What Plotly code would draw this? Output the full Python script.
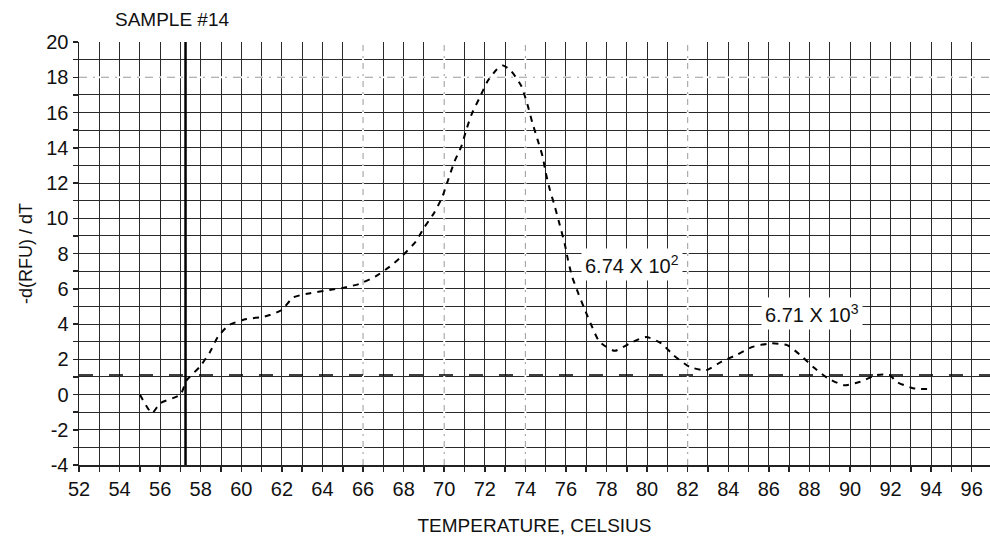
import plotly.graph_objects as go

# Data
temps = [55.0, 55.6, 56.0, 57.0, 57.3, 57.95, 58.45, 58.85, 59.4, 60.25, 61.15, 62.0, 62.55,
         63.4, 64.35, 65.0, 65.8, 66.6, 67.3, 67.9, 68.6, 69.0, 69.5, 69.9, 70.2, 70.5,
         70.85, 71.07, 71.35, 71.75, 72.15, 72.6, 72.9, 73.3, 73.8, 74.1, 74.35, 74.6,
         74.85, 75.0, 75.2, 75.45, 75.7, 75.95, 76.1, 76.3, 76.6, 76.9, 77.25, 77.65,
         78.4, 79.15, 79.95, 80.7, 81.3, 82.1, 82.9, 83.65, 84.4, 85.2, 86.1, 86.9,
         87.65, 88.25, 88.9, 89.7, 90.5, 91.3, 91.95, 92.3, 93.1, 94.0]
dfdt = [0.0, -1.05, -0.5, 0.0, 0.8, 1.57, 2.4, 3.28, 3.94, 4.28, 4.42, 4.8, 5.5,
        5.75, 5.93, 6.05, 6.27, 6.69, 7.24, 7.83, 8.68, 9.45, 10.3, 11.2, 12.2, 13.2,
        14.1, 14.94, 15.9, 16.85, 17.8, 18.45, 18.67, 18.35, 17.5, 16.46, 15.4, 14.46,
        13.5, 12.6, 11.65, 10.67, 9.6, 8.5, 7.64, 6.7, 5.76, 4.9, 3.94, 3.0,
        2.48, 2.9, 3.26, 2.9, 2.23, 1.57, 1.38, 1.85, 2.24, 2.7, 2.9, 2.8,
        2.14, 1.5, 0.93, 0.53, 0.72, 1.1, 1.1, 0.72, 0.36, 0.3]

threshold = 1.1
crossing_temp = 57.25
faint_x_grid = [66, 70, 74, 82]
faint_y_grid = [18]

x_ticks = list(range(52, 97))
x_labels = [str(v) if v % 2 == 0 else "" for v in x_ticks]
y_ticks = list(range(-4, 21))
y_labels = [str(v) if v % 2 == 0 else "" for v in y_ticks]

labels = [
    {"x": 79.25, "y": 7.4, "text": "6.74 X 10<sup>2</sup>"},
    {"x": 88.15, "y": 4.58, "text": "6.71 X 10<sup>3</sup>"},
]

FONT = "Liberation Sans Narrow, Arial Narrow, Liberation Sans, Arial, sans-serif"
X_RANGE = [52, 96.9]
Y_RANGE = [-4, 20]

W, H = 990, 543
ML, MR, MT, MB = 79, 0, 42, 78

fig = go.Figure()
fig.add_trace(go.Scatter(
    x=temps, y=dfdt, mode="lines",
    line=dict(color="black", width=2, dash="6px,6px", shape="spline", smoothing=0.6),
    showlegend=False, hoverinfo="skip",
))

shapes = []
for xv in faint_x_grid:
    shapes.append(dict(type="line", xref="x", yref="y", x0=xv, x1=xv, y0=Y_RANGE[0], y1=Y_RANGE[1],
                       line=dict(color="white", width=2), layer="between"))
    shapes.append(dict(type="line", xref="x", yref="y", x0=xv, x1=xv, y0=Y_RANGE[0], y1=Y_RANGE[1],
                       line=dict(color="#9a9a9a", width=1, dash="6px,5px,2px,5px"), layer="between"))
for yv in faint_y_grid:
    shapes.append(dict(type="line", xref="x", yref="y", x0=X_RANGE[0], x1=X_RANGE[1], y0=yv, y1=yv,
                       line=dict(color="white", width=2), layer="between"))
    shapes.append(dict(type="line", xref="x", yref="y", x0=X_RANGE[0], x1=X_RANGE[1], y0=yv, y1=yv,
                       line=dict(color="#9a9a9a", width=1, dash="8px,6px,2px,6px"), layer="between"))
shapes.append(dict(type="line", xref="x", yref="y", x0=X_RANGE[0], x1=X_RANGE[1], y0=threshold, y1=threshold,
                   line=dict(color="black", width=1.5, dash="14px,16px"), layer="between"))
shapes.append(dict(type="line", xref="x", yref="y", x0=crossing_temp, x1=crossing_temp, y0=Y_RANGE[0], y1=Y_RANGE[1],
                   line=dict(color="black", width=2.5), layer="between"))

annotations = []
for lab in labels:
    annotations.append(dict(x=lab["x"], y=lab["y"], xref="x", yref="y", text=lab["text"],
                            showarrow=False, bgcolor="white", borderpad=3,
                            font=dict(family=FONT, size=20, color="#111")))
annotations.append(dict(x=(113 - ML) / (W - ML - MR), y=1 + (MT - 20) / (H - MT - MB),
                        xref="paper", yref="paper", xanchor="left", yanchor="middle",
                        text="SAMPLE #14", showarrow=False,
                        font=dict(family=FONT, size=19, color="#111")))

axis_common = dict(
    tickmode="array", showgrid=True, gridcolor="#2a2a2a", gridwidth=1,
    ticks="outside", ticklen=5, tickcolor="#222", tickwidth=1.5,
    showline=True, linecolor="#222", linewidth=1.5, mirror=False, zeroline=False,
    tickfont=dict(family=FONT, size=20, color="#111"),
)

fig.update_layout(
    width=W, height=H,
    margin=dict(l=ML, r=MR, t=MT, b=MB),
    paper_bgcolor="white", plot_bgcolor="white",
    shapes=shapes, annotations=annotations,
    font=dict(family=FONT, size=20, color="#111"),
    xaxis=dict(range=X_RANGE, tickvals=x_ticks, ticktext=x_labels,
               title=dict(text="TEMPERATURE, CELSIUS", standoff=20,
                          font=dict(family=FONT, size=19, color="#111")),
               **axis_common),
    yaxis=dict(range=Y_RANGE, tickvals=y_ticks, ticktext=y_labels,
               title=dict(text="-d(RFU) / dT", standoff=9,
                          font=dict(family=FONT, size=18, color="#111")),
               **axis_common),
)

fig.write_html(
    "out.html",
    config={"displayModeBar": False, "staticPlot": True},
    post_script="document.body.style.margin='0';document.body.style.overflow='hidden';",
)
